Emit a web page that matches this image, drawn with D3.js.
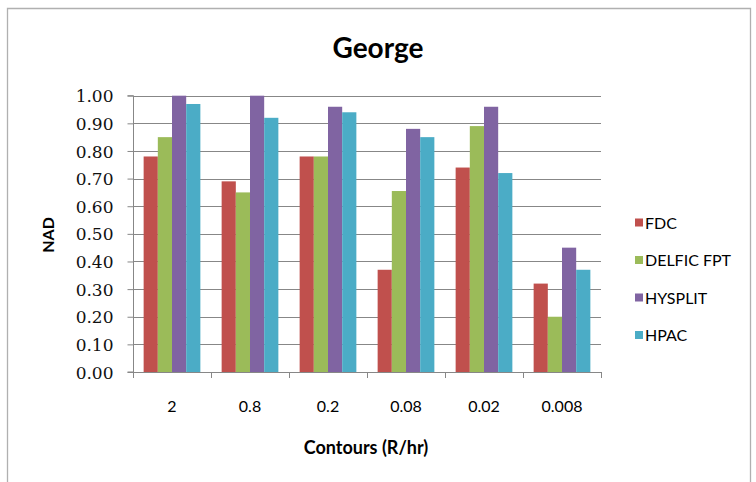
<!DOCTYPE html>
<html><head><meta charset="utf-8">
<script src="https://cdn.jsdelivr.net/npm/d3@7"></script>
<style>body{margin:0;background:#fff}svg{display:block}</style>
</head><body>
<script>
const categories = ["2","0.8","0.2","0.08","0.02","0.008"];
const seriesNames = ["FDC","DELFIC FPT","HYSPLIT","HPAC"];
const FDC = [0.78,0.69,0.78,0.37,0.74,0.32];
const DELFIC = [0.85,0.65,0.78,0.655,0.89,0.20];
const HYSPLIT = [1.00,1.00,0.96,0.88,0.96,0.45];
const HPAC = [0.97,0.92,0.94,0.85,0.72,0.37];
const yTicks = [0,0.1,0.2,0.3,0.4,0.5,0.6,0.7,0.8,0.9,1.0];
const colors = ["#C0504D","#9BBB59","#8064A2","#4BACC6"];
const values = [FDC, DELFIC, HYSPLIT, HPAC];

const W=756,H=482;
const svg=d3.select("body").append("svg").attr("width",W).attr("height",H);
const font="Lato, 'Open Sans', sans-serif";
const serif="'DejaVu Serif', serif";

// outer frame
svg.append("path").attr("d","M7.5,490 V8.5 H750.5 V490").attr("fill","none").attr("stroke","#b0b0b0").attr("stroke-width",1.3);

const L=133,R=601,T=95.7,B=372;
const x=d3.scaleBand().domain(categories).range([L,R]).paddingInner(0).paddingOuter(0);
const inner=d3.scaleBand().domain(seriesNames).range([0,x.bandwidth()]).paddingInner(0).paddingOuter(0.75);
const y=d3.scaleLinear().domain([0,1]).range([B,T]);

// gridlines
svg.append("g").selectAll("line").data(yTicks.slice(1)).join("line")
 .attr("x1",L).attr("x2",R).attr("y1",d=>Math.round(y(d))+0.5).attr("y2",d=>Math.round(y(d))+0.5)
 .attr("stroke","#878787").attr("stroke-width",1);

// bars
const g=svg.append("g");
categories.forEach((c,i)=>{
  seriesNames.forEach((s,j)=>{
    g.append("rect").attr("x",x(c)+inner(s)).attr("width",inner.bandwidth())
     .attr("y",y(values[j][i])).attr("height",B-y(values[j][i])).attr("fill",colors[j]);
  });
});

// y axis
const ya=svg.append("g").attr("transform",`translate(${L+0.5},0)`)
 .call(d3.axisLeft(y).tickValues(yTicks).tickFormat(d3.format(".2f")).tickSize(6).tickPadding(14));
ya.select(".domain").attr("stroke","#878787").attr("d",`M-6,${B}H0V${T}H-6`);
ya.selectAll(".tick line").attr("stroke","#878787");
ya.selectAll("text").attr("font-family",serif).attr("font-size",17).attr("fill","#111").attr("dy","0.36em");

// x axis
const xa=svg.append("g").attr("transform",`translate(0,${B+0.5})`)
 .call(d3.axisBottom(x).tickSize(0).tickPadding(28));
xa.select(".domain").attr("stroke","#878787").attr("d",`M${L},0H${R}`);
xa.selectAll("text").attr("font-family",font).attr("font-size",16).attr("fill","#000");
svg.append("g").selectAll("line").data(d3.range(categories.length+1)).join("line")
 .attr("x1",i=>Math.round(L+i*x.bandwidth())+0.5).attr("x2",i=>Math.round(L+i*x.bandwidth())+0.5)
 .attr("y1",B).attr("y2",B+6).attr("stroke","#878787");

// titles
svg.append("text").attr("x",378).attr("y",58).attr("text-anchor","middle")
 .attr("font-family",font).attr("font-weight","bold").attr("font-size",28).text("George");
svg.append("text").attr("x",366).attr("y",454).attr("text-anchor","middle")
 .attr("font-family",font).attr("font-weight","bold").attr("font-size",18).text("Contours (R/hr)");
svg.append("text").attr("transform","translate(54,235) rotate(-90)").attr("text-anchor","middle")
 .attr("font-family",font).attr("font-weight","bold").attr("font-size",16).text("NAD");

// legend
const leg=svg.append("g");
seriesNames.forEach((s,j)=>{
  const cy=222.5+j*37.5;
  leg.append("rect").attr("x",635).attr("y",cy-4).attr("width",8).attr("height",8).attr("fill",colors[j]);
  leg.append("text").attr("x",645).attr("y",cy+6).attr("font-family",font).attr("font-size",16).text(s);
});
</script>
</body></html>
